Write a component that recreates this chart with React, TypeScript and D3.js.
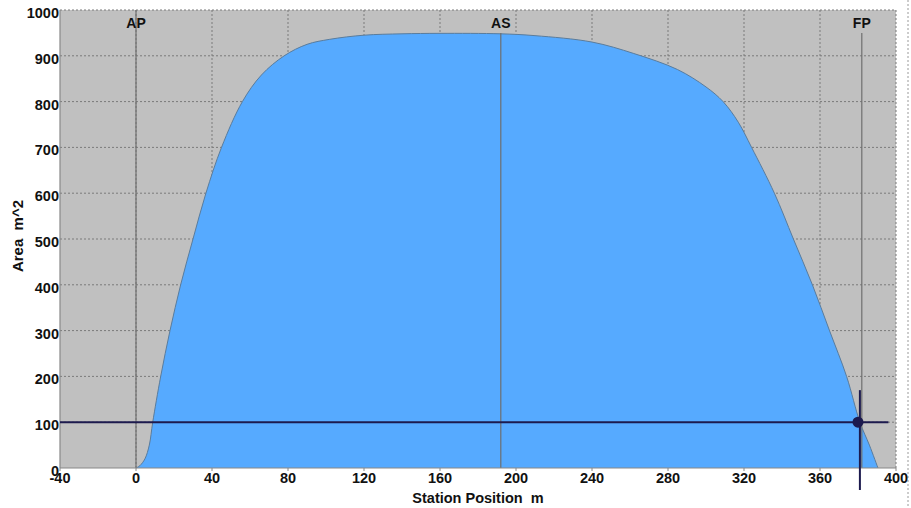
import React from 'react';
import * as d3 from 'd3';

const W = 911;
const H = 508;
const M = { top: 10, right: 15, bottom: 40, left: 60 };

// station position (m) and sectional area (m^2)
const stations = [0, 2, 4.7, 7, 8.8, 13, 17.9, 23.5, 30, 36.8, 45, 56, 66, 78, 90, 102, 120, 140, 160, 192, 210, 240, 262, 285, 300, 309, 317, 324, 336, 346, 356, 365, 374, 381, 386, 390.5];
const areas = [0, 5, 20, 50, 100, 200, 300, 400, 500, 600, 700, 800, 858, 900, 925, 936, 945, 948, 949, 948, 944, 930, 905, 870, 832, 800, 755, 700, 600, 500, 400, 300, 200, 100, 50, 0];

const xTicks = [-40, 0, 40, 80, 120, 160, 200, 240, 280, 320, 360, 400];
const yTicks = [0, 100, 200, 300, 400, 500, 600, 700, 800, 900, 1000];

const markers = [
  { label: 'AP', x: 0, top: 1000 },
  { label: 'AS', x: 192, top: 950 },
  { label: 'FP', x: 382, top: 950 },
];

const cursor = { x: 381, y: 100, xEnd: 396, vTop: 170, vBottom: -48, dotX: 380 };

const FONT = '"Liberation Sans", Arial, sans-serif';
const NAVY = '#1c1a4e';

export default function App() {
  const innerW = W - M.left - M.right;
  const innerH = H - M.top - M.bottom;
  const x = d3.scaleLinear().domain([-40, 400]).range([M.left, M.left + innerW]);
  const y = d3.scaleLinear().domain([0, 1000]).range([M.top + innerH, M.top]);

  const data = stations.map((s, i) => [s, areas[i]] as [number, number]);
  const curve = d3.curveCatmullRom.alpha(0.5);
  const area = d3
    .area<[number, number]>()
    .x((d) => x(d[0]))
    .y0(y(0))
    .y1((d) => y(d[1]))
    .curve(curve);
  const line = d3
    .line<[number, number]>()
    .x((d) => x(d[0]))
    .y((d) => y(d[1]))
    .curve(curve);

  return (
    <div style={{ position: 'absolute', left: 0, top: 0 }}>
      <svg width={W} height={H} style={{ display: 'block', background: '#fff' }}>
        <rect x={x(-40)} y={y(1000)} width={x(400) - x(-40)} height={y(0) - y(1000)} fill="#c0c0c0" />
        {/* grid */}
        {xTicks.slice(1).map((t) => (
          <line key={'gx' + t} x1={x(t)} x2={x(t)} y1={y(0)} y2={y(1000)} stroke="#7a7a7a" strokeWidth={1} strokeDasharray="2,2" />
        ))}
        {yTicks.slice(1).map((t) => (
          <line key={'gy' + t} x1={x(-40)} x2={x(400)} y1={y(t)} y2={y(t)} stroke="#7a7a7a" strokeWidth={1} strokeDasharray="2,2" />
        ))}
        {/* outer dotted frame line */}
        <line x1={908} x2={908} y1={0} y2={H} stroke="#9a9a9a" strokeWidth={1} strokeDasharray="2,2" />

        <path d={area(data) || ''} fill="#56aaff" />
        <path d={line(data) || ''} fill="none" stroke="#5a7c9c" strokeWidth={1} />

        {/* station markers */}
        {markers.map((m) => (
          <g key={m.label}>
            <line x1={x(m.x)} x2={x(m.x)} y1={y(0)} y2={y(m.top)} stroke="#6e6e6e" strokeWidth={1.2} />
            <text x={x(m.x)} y={28} textAnchor="middle" fontFamily={FONT} fontWeight="bold" fontSize={14} fill="#111">
              {m.label}
            </text>
          </g>
        ))}

        {/* axes frame */}
        <line x1={x(-40)} x2={x(-40)} y1={y(0)} y2={y(1000)} stroke="#888" strokeWidth={1.2} />
        <line x1={x(-40)} x2={x(400)} y1={y(0)} y2={y(0)} stroke="#888" strokeWidth={1.2} />

        {/* cursor */}
        <line x1={x(-40)} x2={x(cursor.xEnd)} y1={y(cursor.y)} y2={y(cursor.y)} stroke={NAVY} strokeWidth={2} />
        <line x1={x(cursor.x)} x2={x(cursor.x)} y1={y(cursor.vTop)} y2={y(cursor.vBottom)} stroke={NAVY} strokeWidth={2} />
        <circle cx={x(cursor.dotX)} cy={y(cursor.y)} r={5.5} fill={NAVY} />

        {/* tick labels */}
        {xTicks.map((t) => (
          <g key={'xt' + t}>
            <line x1={x(t)} x2={x(t)} y1={y(0)} y2={y(0) + 3} stroke="#888" />
            <text x={x(t)} y={y(0) + 15} textAnchor="middle" fontFamily={FONT} fontWeight="bold" fontSize={14.5} fill="#111">
              {t}
            </text>
          </g>
        ))}
        {yTicks.map((t) => (
          <text key={'yt' + t} x={x(-40) - 1} y={y(t) + 8} textAnchor="end" fontFamily={FONT} fontWeight="bold" fontSize={14.5} fill="#111">
            {t}
          </text>
        ))}

        <text x={478} y={503} textAnchor="middle" fontFamily={FONT} fontWeight="bold" fontSize={14.5} fill="#111">
          Station Position{'\u00a0\u00a0'}m
        </text>
        <text
          transform={`translate(23,236) rotate(-90)`}
          textAnchor="middle"
          fontFamily={FONT}
          fontWeight="bold"
          fontSize={15}
          fill="#111"
        >
          Area{'\u00a0\u00a0'}m^2
        </text>
      </svg>
    </div>
  );
}
